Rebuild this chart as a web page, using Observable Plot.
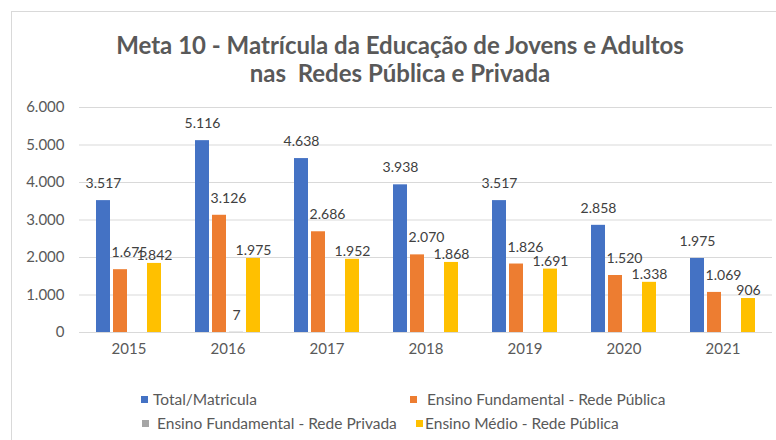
<!DOCTYPE html>
<html><head><meta charset="utf-8">
<script src="https://cdn.jsdelivr.net/npm/d3@7"></script>
<script src="https://cdn.jsdelivr.net/npm/@observablehq/plot@0.6"></script>
<style>
body{margin:0;background:#fff;font-family:Lato,"Open Sans",sans-serif;}
#wrap{position:relative;width:776px;height:440px;overflow:hidden;background:#fff;}
#frame{position:absolute;left:11px;top:11px;width:900px;height:600px;border-left:1px solid #d9d9d9;border-top:1px solid #d9d9d9;}
#title{position:absolute;left:12px;top:31px;width:776px;text-align:center;font-weight:bold;font-size:24px;line-height:28px;color:#595959;}
#chart{position:absolute;left:0;top:95px;}
.lg{position:absolute;font-size:15.5px;color:#595959;white-space:nowrap;line-height:16px;}
.sq{position:absolute;width:7px;height:7px;}
</style></head>
<body>
<div id="wrap">
<div id="frame"></div>
<div id="title">Meta 10 - Matrícula da Educação de Jovens e Adultos<br>nas&nbsp; Redes Pública e Privada</div>
<div id="chart"></div>
<div id="legend"></div>
</div>
<script>
const years = ["2015","2016","2017","2018","2019","2020","2021"];
const seriesNames = ["Total/Matricula","Ensino Fundamental - Rede Pública","Ensino Fundamental - Rede Privada","Ensino Médio - Rede Pública"];
const total = [3517,5116,4638,3938,3517,2858,1975];
const efPublica = [1675,3126,2686,2070,1826,1520,1069];
const efPrivada = [0,7,0,0,0,0,0];
const emPublica = [1842,1975,1952,1868,1691,1338,906];
const colors = ["#4472C4","#ED7D31","#A5A5A5","#FFC000"];
const yTicks = [0,1000,2000,3000,4000,5000,6000];

const seriesValues = [total, efPublica, efPrivada, emPublica];
const rows = years.flatMap((yr,i)=>seriesNames.map((s,j)=>({year:yr, series:s, value:seriesValues[j][i]})));
const loc = d3.formatLocale({thousands:".", grouping:[3], decimal:",", currency:["",""]});
const fmt = loc.format(",");

const labelOf = s => rows.filter(d=>d.series===s && d.value>0);
const txt = {fontSize:14, fill:"#404040", text:d=>fmt(d.value), fx:"year", x:"series", y:"value"};

const chart = Plot.plot({
  width:776, height:275,
  marginLeft:78, marginRight:3, marginTop:12, marginBottom:38,
  style:{fontFamily:"Lato, 'Open Sans', sans-serif", fontSize:"15px", color:"#595959", background:"transparent"},
  fx:{domain:years, padding:0, label:null, tickSize:0, tickPadding:11, axis:"bottom"},
  x:{domain:seriesNames, axis:null, paddingInner:0.18, paddingOuter:1.0},
  y:{domain:[0,6000], ticks:yTicks, tickFormat:fmt, tickSize:0, tickPadding:15, label:null, grid:false},
  color:{domain:seriesNames, range:colors},
  marks:[
    Plot.ruleY(yTicks, {stroke:"#d9d9d9", strokeWidth:1}),
    Plot.barY(rows, {fx:"year", x:"series", y:"value", fill:"series"}),
    Plot.text(labelOf(seriesNames[0]), {...txt, dy:-17}),
    Plot.text(labelOf(seriesNames[1]), {...txt, dy:-17, dx:9}),
    Plot.text(labelOf(seriesNames[2]), {...txt, dy:-17}),
    Plot.text(labelOf(seriesNames[3]), {...txt, dy:-8})
  ]
});
document.getElementById("chart").appendChild(chart);

// legend
const legendPos = [
  {sq:[141,396], tx:[153,391]},
  {sq:[410,396], tx:[427,391]},
  {sq:[142,420], tx:[157,415]},
  {sq:[416,420], tx:[425,415]}
];
const lg = document.getElementById("legend");
seriesNames.forEach((s,i)=>{
  const p = legendPos[i];
  const sq = document.createElement("div"); sq.className="sq";
  sq.style.left=p.sq[0]+"px"; sq.style.top=p.sq[1]+"px"; sq.style.background=colors[i];
  const t = document.createElement("div"); t.className="lg";
  t.style.left=p.tx[0]+"px"; t.style.top=p.tx[1]+"px"; t.textContent=s;
  lg.appendChild(sq); lg.appendChild(t);
});
</script>
</body></html>
